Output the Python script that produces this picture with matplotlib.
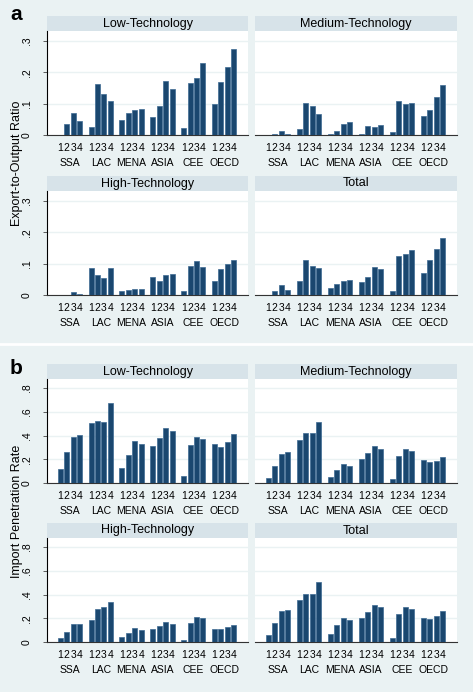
import numpy as np
import matplotlib
matplotlib.use("Agg")
import matplotlib.pyplot as plt

plt.rcParams['font.family'] = ['Liberation Sans', 'DejaVu Sans']

regions = ['SSA', 'LAC', 'MENA', 'ASIA', 'CEE', 'OECD']
periods = ['1', '2', '3', '4']
panel_titles = ['Low-Technology', 'Medium-Technology', 'High-Technology', 'Total']

# export-to-output ratio, one row per region, columns = period 1..4
exp_low = [[0.0, 0.035, 0.071, 0.045], [0.025, 0.162, 0.130, 0.107],
           [0.047, 0.069, 0.078, 0.082], [0.057, 0.093, 0.171, 0.145],
           [0.021, 0.164, 0.180, 0.228], [0.100, 0.170, 0.218, 0.273]]
exp_med = [[0.0, 0.002, 0.012, 0.004], [0.018, 0.102, 0.092, 0.066],
           [0.003, 0.013, 0.035, 0.041], [0.002, 0.028, 0.025, 0.031],
           [0.008, 0.108, 0.100, 0.102], [0.060, 0.080, 0.121, 0.159]]
exp_high = [[0.0, 0.0, 0.010, 0.004], [0.086, 0.064, 0.055, 0.086],
            [0.012, 0.017, 0.019, 0.019], [0.056, 0.046, 0.063, 0.066],
            [0.012, 0.092, 0.108, 0.090], [0.043, 0.083, 0.099, 0.111]]
exp_tot = [[0.0, 0.012, 0.032, 0.017], [0.045, 0.110, 0.093, 0.086],
           [0.021, 0.034, 0.045, 0.048], [0.040, 0.057, 0.088, 0.082],
           [0.014, 0.123, 0.130, 0.143], [0.070, 0.110, 0.146, 0.181]]

# import penetration rate
imp_low = [[0.115, 0.258, 0.390, 0.407], [0.505, 0.522, 0.516, 0.674],
           [0.124, 0.239, 0.354, 0.331], [0.314, 0.376, 0.463, 0.435],
           [0.062, 0.323, 0.390, 0.371], [0.328, 0.306, 0.342, 0.410]]
imp_med = [[0.045, 0.140, 0.241, 0.258], [0.362, 0.418, 0.421, 0.516],
           [0.053, 0.112, 0.157, 0.146], [0.205, 0.250, 0.314, 0.286],
           [0.036, 0.227, 0.286, 0.272], [0.196, 0.174, 0.185, 0.222]]
imp_high = [[0.034, 0.082, 0.155, 0.150], [0.189, 0.280, 0.297, 0.334],
            [0.042, 0.079, 0.116, 0.105], [0.113, 0.136, 0.172, 0.155],
            [0.020, 0.164, 0.209, 0.201], [0.107, 0.113, 0.124, 0.141]]
imp_tot = [[0.057, 0.158, 0.260, 0.269], [0.350, 0.404, 0.407, 0.509],
           [0.068, 0.139, 0.201, 0.189], [0.206, 0.249, 0.311, 0.291],
           [0.034, 0.235, 0.291, 0.277], [0.206, 0.195, 0.218, 0.257]]

exp_ticks = [0, 0.1, 0.2, 0.3]
exp_ticklabels = ['0', '.1', '.2', '.3']
imp_ticks = [0, 0.2, 0.4, 0.6, 0.8]
imp_ticklabels = ['0', '.2', '.4', '.6', '.8']

BG = '#eaf2f3'
STRIP = '#d7e3e9'
NAVY = '#1a476f'

W, H = 473, 692
fig = plt.figure(figsize=(W / 100, H / 100), dpi=100)
fig.patch.set_facecolor(BG)

# white line between the two sub-figures
fig.add_artist(plt.Line2D([0, 1], [1 - 344 / H, 1 - 344 / H], color='white', lw=2))


def px_axes(x0, y0, x1, y1):
    return fig.add_axes([x0 / W, 1 - y1 / H, (x1 - x0) / W, (y1 - y0) / H])


def draw_panel(x0, x1, top, title, values, ymax, ticks, ticklabels, left):
    # strip
    sax = px_axes(x0, top, x1, top + 15)
    sax.set_facecolor(STRIP)
    sax.set_xticks([]); sax.set_yticks([])
    for s in sax.spines.values():
        s.set_visible(False)
    sax.text(0.5, 0.5, title, ha='center', va='center', fontsize=9)

    ax = px_axes(x0, top + 15, x1, top + 119)
    ax.set_facecolor('white')
    vals = np.array(values)
    xs = []
    for g in range(len(regions)):
        pos = g * 4.8 + np.arange(4)
        ax.bar(pos, vals[g], width=0.78, color=NAVY, edgecolor='#3d6a93', linewidth=0.5, zorder=3)
        xs.extend(pos)
        ax.text(g * 4.8 + 1.5, -0.265, regions[g], transform=ax.get_xaxis_transform(),
                ha='center', va='center', fontsize=7.5)
    ax.set_xlim(-2.05, 29.2)
    ax.set_ylim(0, ymax)
    ax.set_xticks(xs)
    ax.set_xticklabels(periods * len(regions), fontsize=7.5)
    ax.tick_params(axis='x', length=0, pad=5.5)
    ax.set_yticks(ticks)
    ax.grid(axis='y', color=BG, lw=1, zorder=0)
    for s in ['top', 'right']:
        ax.spines[s].set_visible(False)
    ax.spines['bottom'].set_color('#333333')
    if left:
        ax.set_yticklabels(ticklabels, rotation=90, va='center', fontsize=7.5)
        ax.tick_params(axis='y', length=3, width=0.6, pad=8, color='#444444')
        ax.spines['left'].set_color('black')
    else:
        ax.spines['left'].set_visible(False)
        ax.tick_params(axis='y', length=0, labelleft=False)


cols = [(47, 248), (255, 457)]
exp_sets = [exp_low, exp_med, exp_high, exp_tot]
imp_sets = [imp_low, imp_med, imp_high, imp_tot]
exp_tops = [16, 176]
imp_tops = [364, 523]

for k in range(4):
    r, c = divmod(k, 2)
    draw_panel(cols[c][0], cols[c][1], exp_tops[r], panel_titles[k], exp_sets[k],
               0.331, exp_ticks, exp_ticklabels, c == 0)
    draw_panel(cols[c][0], cols[c][1], imp_tops[r], panel_titles[k], imp_sets[k],
               0.876, imp_ticks, imp_ticklabels, c == 0)

fig.text(17 / W, 1 - 163 / H, 'Export-to-Output Ratio', rotation=90, ha='center', va='center', fontsize=9)
fig.text(17 / W, 1 - 511 / H, 'Import Penetration Rate', rotation=90, ha='center', va='center', fontsize=9)
fig.text(10 / W, 1 - 15 / H, 'a', fontsize=15, fontweight='bold', ha='left', va='center')
fig.text(10 / W, 1 - 369 / H, 'b', fontsize=15, fontweight='bold', ha='left', va='center')

fig.savefig('out.png', dpi=100, facecolor=fig.get_facecolor())
